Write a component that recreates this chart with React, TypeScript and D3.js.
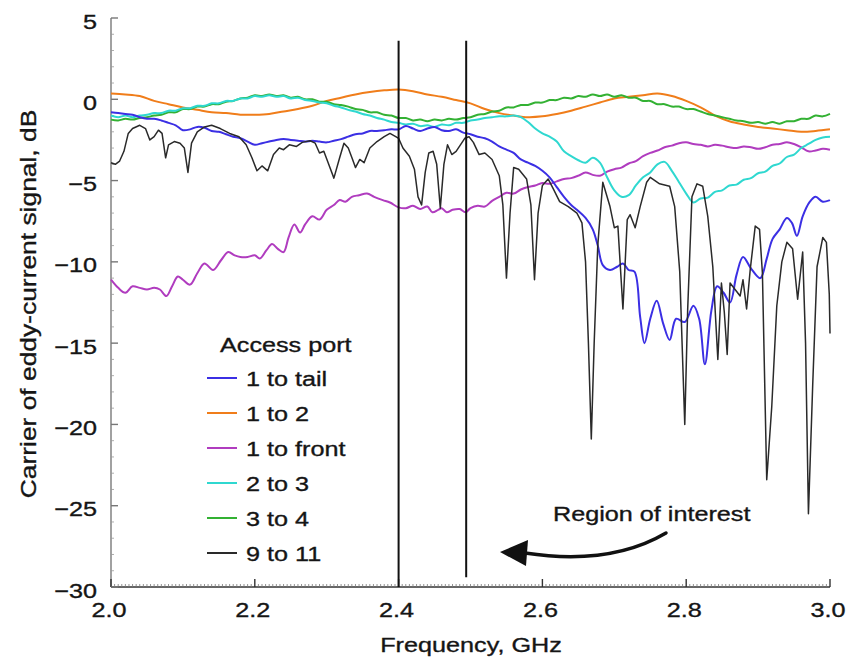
import React from 'react';
import * as d3 from 'd3';

type P = [number, number];

const xTicks = [2.0, 2.2, 2.4, 2.6, 2.8, 3.0];
const yTicks = [5, 0, -5, -10, -15, -20, -25, -30];
const markerFreqs = [2.4, 2.494];
const markerTops = [3.6, 3.6];
const markerBottoms = [-30, -29.4];
const legendTitle = 'Access port';
const seriesNames = ['1 to tail', '1 to 2', '1 to front', '2 to 3', '3 to 4', '9 to 11'];
const seriesColors = ['#3b2fe4', '#f07d1a', '#b03cbf', '#2fd8d0', '#33b133', '#2a2a2a'];
const xTitle = 'Frequency, GHz';
const yTitle = 'Carrier of eddy-current signal, dB';
const annotation = 'Region of interest';

const port1Tail: P[] = [
  [2.00,-0.8],[2.01,-0.85],[2.02,-0.9],[2.03,-0.95],[2.04,-1.1],[2.05,-1.2],[2.06,-1.2],[2.07,-1.3],[2.08,-1.45],[2.09,-1.6],
  [2.10,-1.9],[2.11,-1.85],[2.12,-1.7],[2.13,-1.75],[2.14,-1.95],[2.15,-2.0],[2.16,-2.15],[2.17,-2.3],[2.18,-2.4],[2.19,-2.6],
  [2.20,-2.8],[2.21,-2.7],[2.22,-2.6],[2.23,-2.5],[2.24,-2.45],[2.25,-2.5],[2.26,-2.55],[2.27,-2.6],[2.28,-2.55],[2.29,-2.6],
  [2.30,-2.65],[2.31,-2.55],[2.32,-2.45],[2.33,-2.3],[2.34,-2.15],[2.35,-2.1],[2.36,-1.95],[2.37,-1.95],[2.38,-1.9],[2.39,-1.85],
  [2.40,-1.85],[2.41,-1.65],[2.42,-1.8],[2.43,-1.95],[2.44,-1.8],[2.45,-1.7],[2.46,-1.9],[2.47,-1.95],[2.48,-1.85],[2.49,-2.05],
  [2.50,-2.15],[2.51,-2.3],[2.52,-2.4],[2.53,-2.6],[2.54,-2.9],[2.55,-3.1],[2.56,-3.3],[2.57,-3.7],[2.58,-3.9],[2.59,-4.1],
  [2.60,-4.4],[2.61,-4.8],[2.62,-5.4],[2.63,-6.0],[2.64,-6.5],[2.648,-6.8],[2.66,-7.3],[2.67,-8.0],[2.677,-9.0],[2.684,-10.2],
  [2.694,-10.5],[2.704,-10.3],[2.712,-10.1],[2.72,-10.5],[2.728,-10.6],[2.736,-13.4],[2.742,-15.0],[2.750,-13.5],[2.759,-12.4],
  [2.768,-13.8],[2.777,-14.8],[2.786,-13.5],[2.798,-13.7],[2.810,-12.7],[2.818,-13.5],[2.826,-16.3],[2.835,-13.0],[2.843,-11.5],
  [2.852,-11.9],[2.861,-12.5],[2.870,-10.8],[2.879,-9.7],[2.890,-10.4],[2.903,-11.0],[2.912,-9.8],[2.920,-8.6],[2.930,-8.0],
  [2.940,-7.3],[2.947,-7.6],[2.954,-8.4],[2.962,-7.2],[2.972,-6.3],[2.980,-6.0],[2.990,-6.3],[3.00,-6.2]
];

const port1To2: P[] = [
  [2.00,0.35],[2.02,0.3],[2.04,0.2],[2.06,-0.1],[2.08,-0.3],[2.10,-0.5],[2.12,-0.65],[2.14,-0.8],[2.16,-0.85],[2.18,-0.95],
  [2.20,-0.95],[2.22,-0.9],[2.24,-0.75],[2.26,-0.6],[2.28,-0.4],[2.30,-0.1],[2.32,0.1],[2.34,0.3],[2.36,0.45],[2.38,0.55],
  [2.40,0.6],[2.42,0.5],[2.44,0.3],[2.46,0.15],[2.48,-0.05],[2.50,-0.25],[2.52,-0.6],[2.54,-0.85],[2.56,-1.0],[2.58,-1.1],
  [2.60,-1.05],[2.62,-0.9],[2.64,-0.7],[2.66,-0.45],[2.68,-0.2],[2.70,0.05],[2.72,0.15],[2.74,0.25],[2.76,0.35],[2.78,0.2],
  [2.80,-0.1],[2.82,-0.5],[2.84,-1.0],[2.86,-1.35],[2.88,-1.55],[2.90,-1.7],[2.92,-1.8],[2.94,-1.9],[2.96,-2.0],[2.98,-1.95],[3.00,-1.85]
];

const port1Front: P[] = [
  [2.0,-11.1],[2.01,-11.6],[2.02,-11.9],[2.03,-11.5],[2.04,-11.6],[2.05,-11.7],[2.06,-11.6],[2.068,-11.7],[2.077,-12.1],[2.085,-11.5],
  [2.093,-10.9],[2.10,-11.1],[2.11,-11.4],[2.12,-10.7],[2.13,-10.1],[2.142,-10.5],[2.153,-9.9],[2.163,-9.4],[2.172,-9.6],[2.18,-9.7],
  [2.19,-9.7],[2.20,-9.6],[2.207,-9.8],[2.216,-9.3],[2.224,-8.9],[2.232,-9.2],[2.24,-9.4],[2.247,-8.5],[2.255,-7.7],[2.263,-8.2],
  [2.27,-7.7],[2.28,-7.2],[2.29,-7.4],[2.30,-6.8],[2.31,-6.5],[2.318,-6.2],[2.326,-6.3],[2.335,-6.0],[2.345,-5.9],[2.356,-5.8],
  [2.366,-6.0],[2.378,-6.2],[2.388,-6.35],[2.40,-6.65],[2.41,-6.7],[2.42,-6.55],[2.43,-6.75],[2.44,-6.6],[2.447,-6.95],[2.455,-6.8],
  [2.46,-6.7],[2.467,-6.95],[2.475,-6.8],[2.485,-6.75],[2.493,-6.95],[2.50,-6.7],[2.51,-6.55],[2.52,-6.6],[2.53,-6.25],[2.54,-6.0],
  [2.55,-5.75],[2.56,-5.8],[2.57,-5.55],[2.58,-5.4],[2.59,-5.3],[2.60,-5.15],[2.61,-5.2],[2.62,-5.05],[2.63,-4.9],[2.64,-4.85],
  [2.65,-4.7],[2.66,-4.5],[2.67,-4.65],[2.68,-4.7],[2.69,-4.45],[2.70,-4.3],[2.71,-4.2],[2.72,-3.95],[2.73,-3.8],[2.74,-3.5],
  [2.75,-3.3],[2.76,-3.15],[2.77,-2.95],[2.78,-2.85],[2.79,-2.7],[2.80,-2.65],[2.81,-2.75],[2.82,-2.8],[2.83,-2.9],[2.84,-2.8],
  [2.85,-2.85],[2.86,-2.95],[2.87,-3.0],[2.88,-2.9],[2.89,-2.95],[2.90,-3.05],[2.91,-2.95],[2.92,-2.8],[2.93,-2.75],[2.94,-2.65],
  [2.95,-2.75],[2.96,-2.95],[2.97,-3.2],[2.98,-3.15],[2.99,-3.05],[3.0,-3.1]
];

const port2To3: P[] = [
  [2.00,-1.0],[2.01,-1.1],[2.02,-1.0],[2.03,-1.1],[2.04,-1.0],[2.05,-0.95],[2.06,-0.85],[2.07,-0.85],[2.08,-0.7],[2.09,-0.7],
  [2.10,-0.55],[2.11,-0.55],[2.12,-0.4],[2.13,-0.4],[2.14,-0.25],[2.15,-0.25],[2.16,-0.1],[2.17,-0.1],[2.18,0.05],[2.19,0.05],
  [2.20,0.2],[2.21,0.15],[2.22,0.25],[2.23,0.15],[2.24,0.2],[2.25,0.05],[2.26,0.1],[2.27,-0.05],[2.28,-0.1],[2.29,-0.2],
  [2.30,-0.25],[2.31,-0.4],[2.32,-0.5],[2.33,-0.65],[2.34,-0.75],[2.35,-0.9],[2.36,-1.0],[2.37,-1.15],[2.38,-1.25],[2.39,-1.4],
  [2.40,-1.45],[2.41,-1.55],[2.42,-1.5],[2.43,-1.65],[2.44,-1.6],[2.45,-1.7],[2.46,-1.55],[2.47,-1.6],[2.48,-1.45],[2.49,-1.45],
  [2.50,-1.3],[2.51,-1.25],[2.52,-1.15],[2.53,-1.1],[2.54,-1.05],[2.55,-1.05],[2.56,-1.0],[2.57,-1.1],[2.58,-1.4],[2.59,-1.8],
  [2.60,-2.1],[2.61,-2.3],[2.62,-2.6],[2.63,-3.2],[2.64,-3.5],[2.65,-3.75],[2.66,-3.9],[2.67,-3.6],[2.68,-3.9],[2.69,-4.8],
  [2.70,-5.6],[2.71,-6.0],[2.72,-5.9],[2.73,-5.3],[2.74,-4.8],[2.75,-4.5],[2.76,-4.0],[2.77,-3.85],[2.78,-4.4],[2.79,-5.1],
  [2.80,-5.8],[2.81,-6.35],[2.82,-6.1],[2.83,-6.05],[2.84,-5.7],[2.85,-5.6],[2.86,-5.3],[2.87,-5.25],[2.88,-4.95],[2.89,-4.85],
  [2.90,-4.55],[2.91,-4.45],[2.92,-4.1],[2.93,-3.95],[2.94,-3.55],[2.95,-3.4],[2.96,-3.0],[2.97,-2.75],[2.98,-2.5],[2.99,-2.35],[3.00,-2.3]
];

const port3To4: P[] = [
  [2.00,-1.25],[2.01,-1.3],[2.02,-1.2],[2.03,-1.25],[2.04,-1.15],[2.05,-1.1],[2.06,-1.0],[2.07,-0.95],[2.08,-0.8],[2.09,-0.8],
  [2.10,-0.6],[2.11,-0.6],[2.12,-0.45],[2.13,-0.45],[2.14,-0.3],[2.15,-0.3],[2.16,-0.15],[2.17,-0.1],[2.18,0.05],[2.19,0.1],
  [2.20,0.25],[2.21,0.2],[2.22,0.3],[2.23,0.2],[2.24,0.25],[2.25,0.1],[2.26,0.15],[2.27,0.0],[2.28,0.0],[2.29,-0.15],
  [2.30,-0.15],[2.31,-0.3],[2.32,-0.35],[2.33,-0.45],[2.34,-0.6],[2.35,-0.65],[2.36,-0.8],[2.37,-0.8],[2.38,-0.95],[2.39,-1.0],
  [2.40,-1.15],[2.41,-1.15],[2.42,-1.3],[2.43,-1.25],[2.44,-1.35],[2.45,-1.25],[2.46,-1.3],[2.47,-1.2],[2.48,-1.25],[2.49,-1.15],
  [2.50,-1.1],[2.51,-0.95],[2.52,-0.9],[2.53,-0.75],[2.54,-0.7],[2.55,-0.5],[2.56,-0.5],[2.57,-0.35],[2.58,-0.35],[2.59,-0.2],
  [2.60,-0.2],[2.61,-0.05],[2.62,-0.05],[2.63,0.1],[2.64,0.05],[2.65,0.2],[2.66,0.15],[2.67,0.3],[2.68,0.2],[2.69,0.3],
  [2.70,0.15],[2.71,0.25],[2.72,0.1],[2.73,0.1],[2.74,-0.1],[2.75,-0.1],[2.76,-0.3],[2.77,-0.3],[2.78,-0.45],[2.79,-0.45],
  [2.80,-0.6],[2.81,-0.6],[2.82,-0.75],[2.83,-0.9],[2.84,-1.0],[2.85,-1.1],[2.86,-1.2],[2.87,-1.3],[2.88,-1.35],[2.89,-1.45],
  [2.90,-1.4],[2.91,-1.5],[2.92,-1.4],[2.93,-1.5],[2.94,-1.35],[2.95,-1.35],[2.96,-1.2],[2.97,-1.2],[2.98,-1.0],[2.99,-1.05],[3.00,-0.9]
];

const port9To11: P[] = [
  [2.000,-3.9],[2.006,-4.0],[2.012,-3.8],[2.018,-3.2],[2.024,-2.1],[2.030,-1.8],[2.040,-1.6],[2.048,-1.8],[2.054,-2.5],[2.060,-2.3],
  [2.066,-1.9],[2.071,-2.1],[2.076,-3.6],[2.080,-2.8],[2.088,-2.6],[2.096,-2.7],[2.102,-3.0],[2.107,-4.5],[2.112,-2.7],[2.120,-2.0],
  [2.130,-1.7],[2.140,-1.6],[2.152,-1.8],[2.165,-2.1],[2.178,-2.3],[2.188,-2.8],[2.196,-3.6],[2.203,-4.4],[2.210,-4.1],[2.218,-4.4],
  [2.226,-3.4],[2.234,-3.0],[2.240,-3.1],[2.248,-2.8],[2.258,-2.9],[2.266,-2.65],[2.277,-2.55],[2.284,-2.7],[2.290,-3.3],[2.296,-3.2],
  [2.302,-3.9],[2.310,-4.85],[2.318,-3.6],[2.324,-2.7],[2.330,-3.0],[2.336,-3.7],[2.340,-4.2],[2.346,-3.7],[2.352,-3.9],[2.360,-3.0],
  [2.370,-2.6],[2.380,-2.3],[2.388,-2.1],[2.396,-2.3],[2.400,-2.4],[2.406,-3.0],[2.415,-3.5],[2.422,-4.3],[2.427,-6.0],[2.432,-6.5],
  [2.437,-4.5],[2.442,-3.3],[2.448,-3.2],[2.453,-4.0],[2.458,-6.7],[2.463,-4.0],[2.468,-2.8],[2.474,-3.4],[2.480,-3.2],[2.486,-2.8],
  [2.492,-2.4],[2.498,-2.3],[2.504,-2.65],[2.512,-3.4],[2.520,-3.3],[2.530,-3.7],[2.540,-4.7],[2.545,-6.5],[2.550,-11.0],[2.555,-7.0],
  [2.560,-4.2],[2.567,-4.3],[2.578,-4.9],[2.584,-6.5],[2.589,-11.1],[2.594,-7.0],[2.600,-5.3],[2.608,-4.9],[2.615,-5.5],[2.624,-6.3],
  [2.636,-6.6],[2.648,-7.0],[2.655,-7.6],[2.660,-10.0],[2.664,-15.0],[2.668,-20.9],[2.672,-15.0],[2.677,-9.0],[2.684,-5.1],[2.694,-6.6],
  [2.700,-7.9],[2.705,-7.8],[2.712,-12.9],[2.718,-7.4],[2.722,-7.1],[2.729,-7.9],[2.736,-6.6],[2.745,-5.1],[2.750,-4.8],[2.763,-5.2],
  [2.777,-5.35],[2.784,-6.6],[2.791,-10.6],[2.798,-20.0],[2.802,-13.0],[2.808,-6.0],[2.815,-5.2],[2.823,-5.35],[2.830,-7.2],[2.837,-10.3],
  [2.844,-16.0],[2.849,-11.3],[2.853,-13.1],[2.857,-15.7],[2.861,-11.3],[2.868,-11.7],[2.875,-12.1],[2.879,-11.1],[2.884,-12.9],[2.889,-10.5],
  [2.896,-7.8],[2.902,-8.0],[2.906,-10.7],[2.912,-23.4],[2.919,-18.9],[2.926,-12.7],[2.933,-10.0],[2.940,-8.8],[2.948,-9.2],[2.955,-12.3],
  [2.962,-9.4],[2.966,-15.0],[2.970,-25.5],[2.976,-17.5],[2.982,-10.3],[2.990,-8.5],[2.995,-8.8],[2.999,-12.0],[3.000,-14.4]
];

const seriesData: P[][] = [port1Tail, port1To2, port1Front, port2To3, port3To4, port9To11];
const drawOrder = [2, 1, 4, 3, 0, 5];

const FONT = 'Liberation Sans, Arial, Helvetica, sans-serif';
const SX = 1.2;

function Txt({ x, y, anchor = 'start', rot = 0, size = 21, children }: any) {
  return (
    <text
      transform={`translate(${x},${y})${rot ? ` rotate(${rot})` : ''} scale(${SX},1)`}
      textAnchor={anchor}
      fontSize={size}
      fontFamily={FONT}
      fill="#151515"
      stroke="#151515"
      strokeWidth={0.35}
    >
      {children}
    </text>
  );
}

const fmtY = (v: number) => (v < 0 ? '\u2212' + Math.abs(v) : String(v));

export default function App() {
  const x = d3.scaleLinear().domain([2, 3]).range([111, 830]);
  const y = d3.scaleLinear().domain([-30, 5]).range([587, 18]);

  const smooth = d3.line<P>().x(d => x(d[0])).y(d => y(d[1])).curve(d3.curveCatmullRom.alpha(0.5));
  const sharp = d3.line<P>().x(d => x(d[0])).y(d => y(d[1])).curve(d3.curveLinear);

  const minorX = d3.range(201).map(i => 2 + i * 0.005).filter(v => Math.abs(v * 5 - Math.round(v * 5)) > 1e-6);
  const minorY = d3.range(-30, 5.01, 1).filter(v => v % 5 !== 0);

  const legendX = 207;
  const legendRows = seriesNames.map((_, i) => 378 + i * 35);

  return (
    <svg width={850} height={660} style={{ position: 'absolute', left: 0, top: 0, background: '#fff' }}>
      <rect x={0} y={0} width={850} height={660} fill="#fff" />
      <line x1={x(2)} x2={x(2)} y1={y(5)} y2={y(-30)} stroke="#8a8a8a" strokeWidth={1.6} />
      <line x1={x(2)} x2={x(3)} y1={y(-30)} y2={y(-30)} stroke="#333" strokeWidth={1.6} />
      {minorX.map((v, i) => (
        <line key={'mx' + i} x1={x(v)} x2={x(v)} y1={y(-30)} y2={y(-30) - 3} stroke="#777" strokeWidth={0.8} />
      ))}
      {minorY.map((v, i) => (
        <line key={'my' + i} x1={x(2)} x2={x(2) + 3} y1={y(v)} y2={y(v)} stroke="#999" strokeWidth={0.8} />
      ))}
      {xTicks.map(t => (
        <g key={'xt' + t}>
          <line x1={x(t)} x2={x(t)} y1={y(-30)} y2={y(-30) - 8} stroke="#333" strokeWidth={1.4} />
          <Txt x={x(t) - 2} y={617} anchor="middle">{t.toFixed(1)}</Txt>
        </g>
      ))}
      {yTicks.map(t => (
        <g key={'yt' + t}>
          <line x1={x(2)} x2={x(2) + 7} y1={y(t)} y2={y(t)} stroke="#777" strokeWidth={1.4} />
          <Txt x={97} y={y(t) + 10.5} anchor="end">{fmtY(t)}</Txt>
        </g>
      ))}
      <Txt x={471} y={652} anchor="middle">{xTitle}</Txt>
      <Txt x={36} y={304} anchor="middle" rot={-90} size={22}>{yTitle}</Txt>

      {drawOrder.map(i => (
        <path
          key={'s' + i}
          d={(i === 5 ? sharp : smooth)(seriesData[i]) || ''}
          fill="none"
          stroke={seriesColors[i]}
          strokeWidth={i === 5 ? 1.5 : 2}
          strokeLinejoin="round"
        />
      ))}

      {markerFreqs.map((f, i) => (
        <line key={'mk' + i} x1={x(f)} x2={x(f)} y1={y(markerTops[i])} y2={y(markerBottoms[i])} stroke="#111" strokeWidth={2} />
      ))}

      <Txt x={220} y={352}>{legendTitle}</Txt>
      {seriesNames.map((n, i) => (
        <g key={'lg' + i}>
          <line x1={legendX} x2={legendX + 30} y1={legendRows[i]} y2={legendRows[i]} stroke={seriesColors[i]} strokeWidth={2} />
          <Txt x={246} y={legendRows[i] + 7.5}>{n}</Txt>
        </g>
      ))}

      <Txt x={553} y={521}>{annotation}</Txt>
      <path d="M666,533 Q610,566 525,553" fill="none" stroke="#111" strokeWidth={3.5} strokeLinecap="round" />
      <path d="M500,552 L528,540 L526,566 Z" fill="#111" />
    </svg>
  );
}
